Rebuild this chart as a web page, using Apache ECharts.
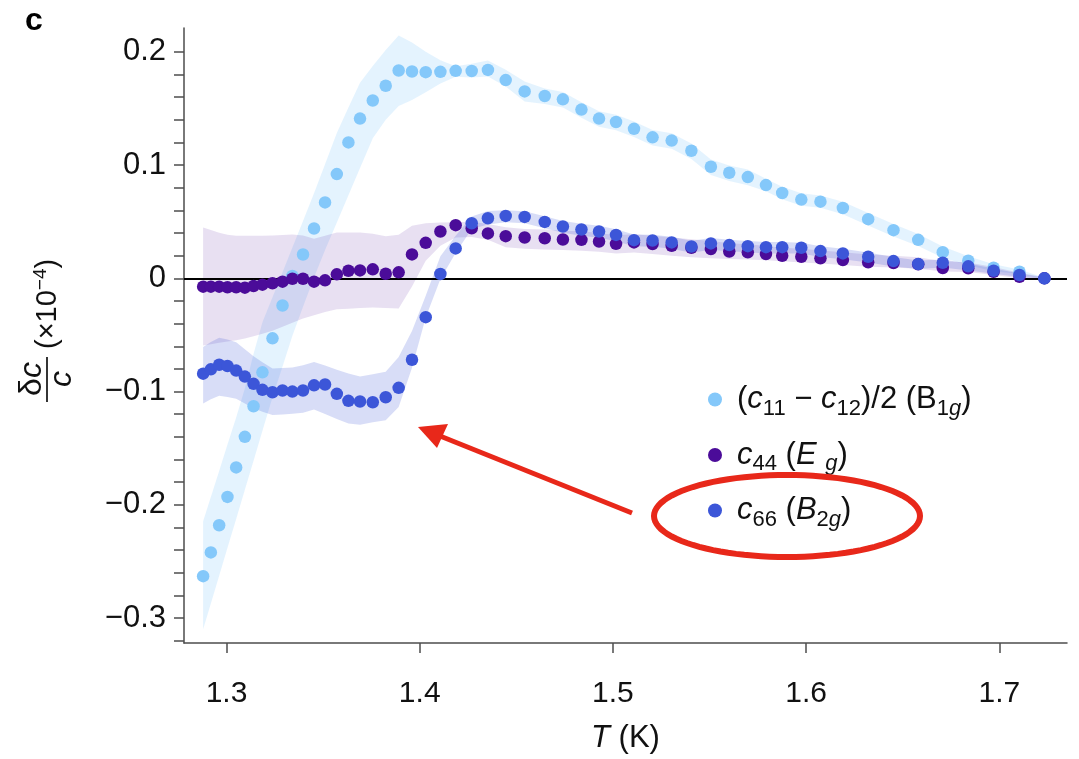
<!DOCTYPE html>
<html><head><meta charset="utf-8">
<script src="https://cdn.jsdelivr.net/npm/echarts@6/dist/echarts.min.js"></script>
<style>html,body{margin:0;padding:0;background:#fff}#c{width:1079px;height:759px}</style>
</head><body><div id="c"></div>
<script>
// ---------- data ----------
const temperature = [1.2879,1.2919,1.2962,1.3005,1.3050,1.3095,1.3140,1.3186,1.3238,1.3290,
 1.3341,1.3396,1.3453,1.3510,1.3571,1.3631,1.3691,1.3757,1.3824,1.3891,
 1.3960,1.4031,1.4107,1.4186,1.4269,1.4353,1.4445,1.4543,1.4647,1.4741,
 1.4837,1.4928,1.5016,1.5109,1.5205,1.5304,1.5406,1.5507,1.5602,1.5698,
 1.5792,1.5876,1.5975,1.6074,1.6190,1.6321,1.6452,1.6580,1.6707,1.6839,
 1.6970,1.7104,1.7233];

const b1gValues = [-0.263,-0.242,-0.218,-0.193,-0.167,-0.140,-0.113,-0.083,-0.053,-0.024,
 0.002,0.021,0.044,0.067,0.092,0.120,0.141,0.157,0.170,0.1835,
 0.1826,0.182,0.1823,0.1832,0.183,0.184,0.175,0.165,0.161,0.158,
 0.149,0.141,0.138,0.132,0.1245,0.1216,0.1126,0.0985,0.0932,0.0894,
 0.0823,0.0753,0.0695,0.0677,0.0621,0.0522,0.0425,0.034,0.0231,0.0155,
 0.0093,0.0058,0.0];
const b1gUpper = [-0.2146,-0.1931,-0.1701,-0.1467,-0.1228,-0.0973,-0.0667,-0.0387,-0.0167,0.0053,
 0.0273,0.0506,0.075,0.1008,0.1282,0.1508,0.1726,0.1875,0.2016,0.2144,
 0.2081,0.2001,0.1925,0.1872,0.1894,0.1923,0.1841,0.1738,0.1675,0.1645,
 0.1555,0.1475,0.1445,0.1385,0.131,0.128,0.119,0.105,0.0995,0.096,
 0.0878,0.0808,0.075,0.0732,0.0676,0.0577,0.048,0.0392,0.0281,0.0195,
 0.0123,0.0078,0.0005];
const b1gLower = [-0.3099,-0.2872,-0.2627,-0.2379,-0.2125,-0.1868,-0.1611,-0.1346,-0.105,-0.0778,
 -0.0508,-0.0252,0.0007,0.0251,0.0493,0.0734,0.0975,0.1237,0.1401,0.1522,
 0.1574,0.1642,0.1721,0.1779,0.1772,0.1782,0.1694,0.1562,0.1538,0.1508,
 0.1418,0.1338,0.1308,0.1248,0.1173,0.1144,0.1054,0.0913,0.086,0.0822,
 0.0768,0.0698,0.064,0.0622,0.0566,0.0467,0.037,0.0285,0.0181,0.0115,
 0.0063,0.0038,-0.0005];

const egValues = [-0.0074,-0.0074,-0.0074,-0.0079,-0.0079,-0.0083,-0.0068,-0.0056,-0.0044,-0.003,
 -0.0004,-0.0004,-0.003,-0.0018,0.0035,0.0067,0.007,0.0079,0.004,0.0053,
 0.0211,0.0313,0.0413,0.0469,0.0442,0.0396,0.0372,0.036,0.0354,0.0343,
 0.034,0.0325,0.0304,0.0317,0.0302,0.0287,0.027,0.0258,0.0237,0.0229,
 0.0214,0.0199,0.019,0.0176,0.0161,0.0141,0.0135,0.0123,0.0091,0.0088,
 0.0058,0.0014,0.0];
const egUpper = [0.0449,0.0427,0.0402,0.0385,0.0375,0.0375,0.0375,0.0375,0.0377,0.0382,
 0.0387,0.0379,0.035,0.0376,0.0405,0.0405,0.0405,0.0394,0.0372,0.0385,
 0.0465,0.0487,0.0493,0.0495,0.05,0.048,0.045,0.0435,0.043,0.042,
 0.0415,0.040,0.038,0.039,0.0375,0.036,0.0345,0.033,0.031,0.030,
 0.0285,0.027,0.026,0.0245,0.023,0.021,0.020,0.0185,0.015,0.014,
 0.010,0.005,0.001];
const egLower = [-0.0593,-0.0582,-0.057,-0.0558,-0.0547,-0.0531,-0.0512,-0.049,-0.0462,-0.0427,
 -0.0392,-0.0355,-0.0326,-0.0297,-0.0274,-0.0268,-0.0263,-0.0258,-0.0263,-0.0266,
 -0.0072,0.0154,0.0287,0.036,0.0365,0.034,0.0275,0.026,0.0255,0.025,
 0.0243,0.0235,0.022,0.0228,0.0215,0.020,0.0185,0.0178,0.017,0.0165,
 0.016,0.015,0.014,0.013,0.0118,0.0102,0.0095,0.0085,0.006,0.0055,
 0.003,0.0,-0.001];

const b2gValues = [-0.0842,-0.0804,-0.0763,-0.0774,-0.0815,-0.0868,-0.0932,-0.0985,-0.1006,-0.0991,
 -0.1,-0.0991,-0.0945,-0.0938,-0.102,-0.1082,-0.1088,-0.1094,-0.105,-0.0967,
 -0.0719,-0.0343,0.0038,0.0264,0.0486,0.053,0.0551,0.0542,0.0498,0.0457,
 0.0431,0.0413,0.0383,0.0337,0.0334,0.0317,0.0281,0.0308,0.0293,0.0284,
 0.0275,0.0275,0.027,0.024,0.022,0.019,0.0152,0.0126,0.0137,0.0106,
 0.0067,0.0029,0.0];
const b2gUpper = [-0.0607,-0.0562,-0.0524,-0.0541,-0.0565,-0.0627,-0.0688,-0.0742,-0.0797,-0.0793,
 -0.0788,-0.0768,-0.0739,-0.0769,-0.0808,-0.0841,-0.0867,-0.0847,-0.0824,-0.0694,
 -0.0465,-0.0155,0.0195,0.0375,0.0545,0.0595,0.0601,0.0592,0.0548,0.0507,
 0.0481,0.0463,0.0433,0.0387,0.0384,0.0367,0.0331,0.0355,0.034,0.033,
 0.032,0.032,0.0315,0.0282,0.026,0.0228,0.0187,0.0158,0.0165,0.0131,
 0.0087,0.0042,0.0005];
const b2gLower = [-0.1106,-0.1068,-0.1037,-0.1049,-0.1063,-0.1106,-0.1147,-0.1179,-0.1208,-0.1203,
 -0.1196,-0.1186,-0.1158,-0.1198,-0.1243,-0.1283,-0.1292,-0.1271,-0.1254,-0.1136,
 -0.0789,-0.0347,-0.0006,0.0223,0.0436,0.0475,0.0496,0.0487,0.0443,0.0402,
 0.0376,0.0358,0.0328,0.0282,0.0279,0.0262,0.0226,0.0253,0.0238,0.0229,
 0.022,0.022,0.0218,0.0188,0.0168,0.014,0.0105,0.0083,0.0095,0.007,
 0.004,0.0012,-0.0005];

const xTickValues = [1.3, 1.4, 1.5, 1.6, 1.7];
const yLabelValues = [-0.3, -0.2, -0.1, 0, 0.1, 0.2];
const yLabelTexts = ['\u22120.3', '\u22120.2', '\u22120.1', '0', '0.1', '0.2'];
const yMinorTickValues = [-0.32,-0.30,-0.28,-0.26,-0.24,-0.22,-0.20,-0.18,-0.16,-0.14,-0.12,-0.10,
 -0.08,-0.06,-0.04,-0.02,0,0.02,0.04,0.06,0.08,0.10,0.12,0.14,0.16,0.18,0.20];
const seriesNames = ['B1g', 'Eg', 'B2g'];
const legendLabels = {
  B1g: '({i|c}{s|11} \u2212 {i|c}{s|12})/2 (B{s|1}{si|g})',
  Eg: '{i|c}{s|44} ({i|E} {si|g})',
  B2g: '{i|c}{s|66} ({i|B}{s|2}{si|g})'
};

// ---------- chart ----------
const FONT = '"Liberation Sans", Arial, Helvetica, sans-serif';
const COLORS = { B1g: '#84c8fa', Eg: '#4b0c99', B2g: '#3c56d8' };
const BANDS = { B1g: 'rgba(132,200,250,0.22)', Eg: 'rgba(75,12,153,0.13)', B2g: 'rgba(60,86,216,0.2)' };

function bandSeries(key, lower, upper) {
  const rows = temperature.map((t, i) => [t, lower[i], upper[i]]);
  return {
    type: 'custom', name: key + '_band', silent: true, z: 1, clip: true,
    data: rows, encode: { x: 0, y: [1, 2] },
    renderItem: function (params, api) {
      if (params.dataIndex !== 0) return null;
      const top = rows.map(r => api.coord([r[0], r[2]]));
      const bot = rows.map(r => api.coord([r[0], r[1]])).reverse();
      return { type: 'polygon', shape: { points: top.concat(bot) }, style: { fill: BANDS[key], stroke: null } };
    }
  };
}

function pointSeries(key, values, z) {
  return { type: 'scatter', name: key, symbol: 'circle', symbolSize: 12.5, z: z,
    itemStyle: { color: COLORS[key], opacity: 1 },
    data: temperature.map((t, i) => [t, values[i]]) };
}

const ellipsePts = [];
for (let k = 0; k <= 96; k++) {
  const a = k / 96 * Math.PI * 2;
  ellipsePts.push([787 + 133 * Math.cos(a), 516 + 41 * Math.sin(a)]);
}

const chart = echarts.init(document.getElementById('c'), null, { renderer: 'canvas' });
chart.setOption({
  animation: false,
  backgroundColor: '#fff',
  grid: { left: 184, right: 12, top: 28, bottom: 114, containLabel: false },
  xAxis: {
    type: 'value', min: 1.278, max: 1.735,
    axisLine: { show: true, onZero: false, lineStyle: { color: '#4d4d4d', width: 1.5 } },
    axisTick: { show: true, customValues: xTickValues, length: 10, inside: false, lineStyle: { color: '#4d4d4d', width: 1.5 } },
    axisLabel: { customValues: xTickValues, margin: 36, fontFamily: FONT, fontSize: 30, color: '#111',
      formatter: v => v.toFixed(1) },
    splitLine: { show: false },
    name: '{i|T} (K)', nameLocation: 'middle', nameGap: 80,
    nameTextStyle: { fontFamily: FONT, fontSize: 31, color: '#111',
      rich: { i: { fontFamily: FONT, fontSize: 31, fontStyle: 'italic', color: '#111' } } }
  },
  yAxis: {
    type: 'value', min: -0.322, max: 0.221,
    axisLine: { show: true, onZero: false, lineStyle: { color: '#4d4d4d', width: 1.5 } },
    axisTick: { show: true, customValues: yMinorTickValues, length: 10, lineStyle: { color: '#4d4d4d', width: 1.5 } },
    axisLabel: { customValues: yLabelValues, margin: 18, fontFamily: FONT, fontSize: 31, color: '#111',
      formatter: v => { const i = yLabelValues.findIndex(x => Math.abs(x - v) < 1e-9); return i >= 0 ? yLabelTexts[i] : ''; } },
    splitLine: { show: false }
  },
  legend: {
    data: seriesNames, orient: 'vertical', left: 703, top: 379, itemGap: 20,
    icon: 'circle', itemWidth: 14, itemHeight: 14, selectedMode: false,
    formatter: n => legendLabels[n],
    textStyle: { fontFamily: FONT, fontSize: 31, color: '#111', padding: [0, 0, 0, 10],
      rich: {
        i: { fontFamily: FONT, fontSize: 31, fontStyle: 'italic', color: '#111' },
        s: { fontFamily: FONT, fontSize: 22, color: '#111', padding: [18, 0, 0, 0] },
        si: { fontFamily: FONT, fontSize: 22, fontStyle: 'italic', color: '#111', padding: [18, 0, 0, 0] }
      } }
  },
  series: [
    bandSeries('B1g', b1gLower, b1gUpper),
    bandSeries('Eg', egLower, egUpper),
    bandSeries('B2g', b2gLower, b2gUpper),
    Object.assign(pointSeries('B1g', b1gValues, 6), {
      markLine: { silent: true, symbol: 'none', z: 5, label: { show: false },
        lineStyle: { color: '#000', width: 2.2, type: 'solid' }, data: [{ yAxis: 0 }] } }),
    pointSeries('Eg', egValues, 7),
    pointSeries('B2g', b2gValues, 8)
  ],
  graphic: [
    { type: 'text', left: 25, top: 5, style: { text: 'c', fontFamily: FONT, fontWeight: 'bold', fontSize: 32, fill: '#000' } },
    { type: 'group', x: 47, y: 330, rotation: Math.PI / 2, children: [
      { type: 'line', shape: { x1: -72, y1: 0, x2: -27, y2: 0 }, style: { stroke: '#111', lineWidth: 1.7 } },
      { type: 'text', x: -49, y: -15, style: { text: '{n|\u03b4}{i|c}', align: 'center', verticalAlign: 'middle',
        rich: { n: { fontFamily: FONT, fontSize: 32, fill: '#111' }, i: { fontFamily: FONT, fontSize: 32, fontStyle: 'italic', fill: '#111' } } } },
      { type: 'text', x: -49, y: 15, style: { text: 'c', fontFamily: FONT, fontSize: 32, fontStyle: 'italic', fill: '#111', align: 'center', verticalAlign: 'middle' } },
      { type: 'text', x: -19, y: 1, style: { text: '(\u00d710{p|\u22124})', fontFamily: FONT, fontSize: 29, fill: '#111', align: 'left', verticalAlign: 'middle',
        rich: { p: { fontFamily: FONT, fontSize: 19, fill: '#111', padding: [0, 0, 15, 0] } } } }
    ] },
    { type: 'polygon', shape: { points: ellipsePts }, style: { fill: 'none', stroke: '#e8281a', lineWidth: 6 }, z: 20 },
    { type: 'line', shape: { x1: 632, y1: 513, x2: 440, y2: 436 }, style: { stroke: '#e8281a', lineWidth: 5 }, z: 20 },
    { type: 'polygon', shape: { points: [[418, 427], [448, 424], [437, 448]] }, style: { fill: '#e8281a' }, z: 20 }
  ]
});
</script></body></html>
